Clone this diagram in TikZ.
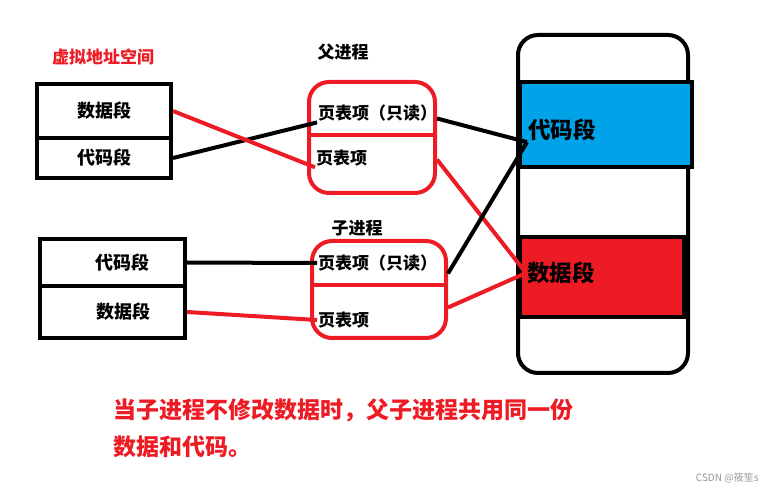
\documentclass[tikz,border=0pt]{standalone}
\usepackage{fontspec}
\setmainfont{Noto Sans CJK SC}
\newfontfamily\cjk{Noto Sans CJK SC}
\usetikzlibrary{calc}
\definecolor{paintred}{RGB}{237,28,36}
\definecolor{paintblue}{RGB}{0,162,232}
\definecolor{marksgray}{RGB}{150,150,150}

\begin{document}
\begin{tikzpicture}[x=1pt, y=-1pt,
    segbox/.style={draw, line width=4pt, inner sep=0pt, font=\cjk\bfseries\fontsize{18}{21}\selectfont},
    ptbox/.style={draw=paintred, line width=4pt, rounded corners=20pt, inner sep=0pt},
    ptext/.style={inner sep=1pt, anchor=west, font=\cjk\bfseries\fontsize{17}{20}\selectfont},
    memseg/.style={draw, line width=4pt, inner sep=0pt},
    memtext/.style={inner sep=1pt, anchor=west, font=\cjk\bfseries\fontsize{22.5}{26}\selectfont},
    link/.style={line width=4pt},
    redlink/.style={link, draw=paintred}]
  \useasboundingbox (0,0) rectangle (766,494);
  % espacio virtual (izquierda)
  \node[text=paintred, font=\cjk\bfseries\fontsize{17}{20}\selectfont] (vtitle) at (103,57) {虚拟地址空间};
  \node[segbox, minimum width=134pt, minimum height=54pt] (vdata1) at (104,111) {数据段};
  \node[segbox, minimum width=134pt, minimum height=40pt] (vcode1) at (104,158) {代码段};
  \node[segbox, minimum width=145pt, minimum height=47pt] (vcode2) at (112.5,262.5) {\hspace*{20pt}代码段};
  \node[segbox, minimum width=145pt, minimum height=52pt] (vdata2) at (112.5,312) {\hspace*{22pt}数据段};
  % tablas de paginas
  \node[font=\cjk\bfseries\fontsize{17}{20}\selectfont] (ptitle) at (343,52) {父进程};
  \node[ptbox, minimum width=126pt, minimum height=111pt] (pbox) at (372,137.5) {};
  \draw[paintred, line width=4pt] (pbox.west |- 0,135) -- (pbox.east |- 0,135);
  \node[ptext] (pro) at (317,113) {页表项（只读）};
  \node[ptext] (pdt) at (315,158) {页表项};
  \node[font=\cjk\bfseries\fontsize{17}{20}\selectfont] (ctitle) at (357,228) {子进程};
  \node[ptbox, minimum width=134pt, minimum height=97pt] (cbox) at (379,289.5) {};
  \draw[paintred, line width=4pt] (cbox.west |- 0,285) -- (cbox.east |- 0,285);
  \node[ptext] (cro) at (317,263) {页表项（只读）};
  \node[ptext] (cdt) at (317,320) {页表项};
  % memoria fisica
  \node[memseg, rounded corners=20pt, minimum width=170pt, minimum height=338pt] (mem) at (603,204) {};
  \node[memseg, fill=paintblue, minimum width=172pt, minimum height=85pt] (mcode) at (606,124.5) {};
  \node[memseg, fill=paintred, minimum width=164pt, minimum height=80pt] (mdata) at (602,277) {};
  \node[memtext] (mcodetxt) at (527,130) {代码段};
  \node[memtext] (mdatatxt) at (526,273) {数据段};
  % enlaces
  \draw[link] (vcode1.east) -- (pro.south west);
  \draw[redlink] (vdata1.east) -- (pdt.south west);
  \draw[link] ([yshift=19pt]pbox.east) -- (mcodetxt.south west);
  \draw[redlink] ([yshift=-22pt]pbox.east) -- (mdatatxt.west);
  \draw[link] ([yshift=16pt]cbox.east) -- (mcodetxt.south west);
  \draw[redlink] ([yshift=-18pt]cbox.east) -- (mdatatxt.west);
  \draw[link] (vcode2.east) -- (cro.west);
  \draw[redlink] (vdata2.east) -- (cdt.west);
  % nota
  \node[anchor=west, align=left, text=paintred, font=\cjk\bfseries\fontsize{23}{37}\selectfont] (note) at (110,428.5)
    {当子进程不修改数据时，父子进程共用同一份\\数据和代码。};
  \node[anchor=east, text=marksgray, font=\cjk\fontsize{10}{12}\selectfont] (mark) at (762,478) {CSDN @筱笙s};
\end{tikzpicture}
\end{document}
